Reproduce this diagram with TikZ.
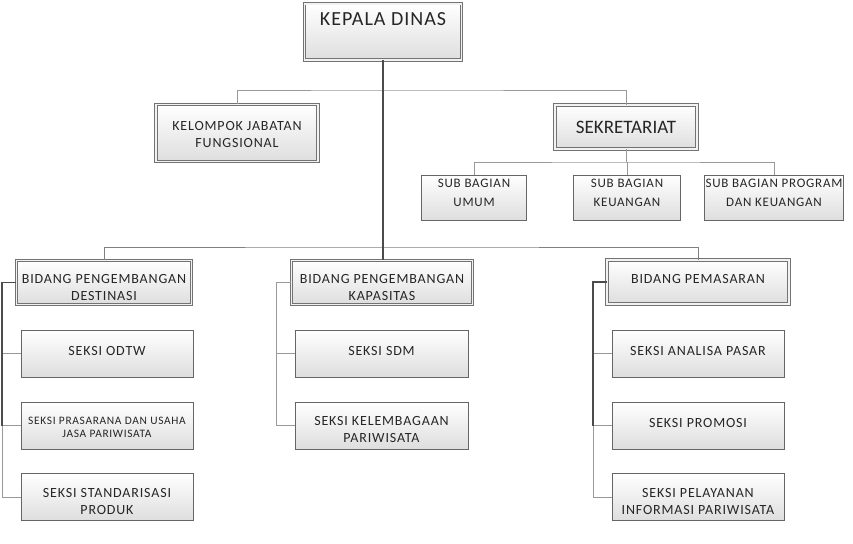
\documentclass[tikz,border=0pt]{standalone}
\usepackage{fontspec}
\setmainfont{Carlito}
\newfontfamily\wide[LetterSpace=6]{Carlito}
\newfontfamily\wider[LetterSpace=5]{Carlito}
\newcommand\dnby[1]{\rule{0pt}{#1}}
\newcommand\upby[1]{\rule[-#1]{0pt}{#1}}
\usetikzlibrary{calc}
\begin{document}
\begin{tikzpicture}[x=1pt,y=-1pt,
  base/.style={inner sep=1pt, align=center, text=black!85, top color=white, bottom color=black!13},
  dbox/.style={base, draw=black!55, double=black!5, double distance=1.3pt, line width=0.9pt},
  sbox/.style={base, draw=black!60, line width=0.9pt},
  link/.style={draw=black!40, line width=0.8pt},
  spine/.style={draw=black!70, line width=1.2pt},
  fA/.style={font=\wider\fontsize{20}{23}\selectfont},
  fB/.style={font=\fontsize{19}{22}\selectfont},
  fC/.style={font=\wide\fontsize{14}{17}\selectfont},
  fS/.style={font=\wide\fontsize{13}{19}\selectfont},
  fD/.style={font=\wide\fontsize{11.4}{13.5}\selectfont}]
\useasboundingbox[fill=white] (0,0) rectangle (853,543);

% boxes
\node[dbox, fA, anchor=north, inner sep=0pt, minimum width=157, text height=22, text depth=34] (kd) at (383,3.5) {KEPALA DINAS};
\node[dbox, fC, minimum width=162, minimum height=57] (kjf) at (237,133) {\dnby{12pt}KELOMPOK JABATAN\\FUNGSIONAL};
\node[dbox, fB, minimum width=142, minimum height=44] (sek) at (626,127) {SEKRETARIAT};

\node[sbox, fS, minimum width=105, minimum height=45] (sbu) at (474,197.5) {SUB BAGIAN\\UMUM\upby{9pt}};
\node[sbox, fS, minimum width=107, minimum height=45] (sbk) at (627,197.5) {SUB BAGIAN\\KEUANGAN\upby{9pt}};
\node[sbox, fS, minimum width=138, minimum height=45] (sbp) at (774,197.5) {SUB BAGIAN PROGRAM\\DAN KEUANGAN\upby{9pt}};

\node[dbox, fC, minimum width=175, minimum height=44] (bd) at (104,282.5) {\dnby{19pt}BIDANG PENGEMBANGAN\\DESTINASI};
\node[dbox, fC, minimum width=181, minimum height=44] (bk) at (382,282.5) {\dnby{19pt}BIDANG PENGEMBANGAN\\KAPASITAS};
\node[dbox, fC, minimum width=182, minimum height=44] (bp) at (698,282) {BIDANG PEMASARAN\upby{6pt}};

\node[sbox, fC, minimum width=172, minimum height=47] (s1) at (107,353.5) {SEKSI ODTW\upby{5pt}};
\node[sbox, fD, minimum width=172, minimum height=47] (s2) at (107,425.5) {\dnby{11pt}SEKSI PRASARANA DAN USAHA\\JASA PARIWISATA};
\node[sbox, fC, minimum width=172, minimum height=47] (s3) at (107,497) {\dnby{19pt}SEKSI STANDARISASI\\PRODUK};

\node[sbox, fC, minimum width=173, minimum height=47] (m1) at (381.5,353.5) {SEKSI SDM\upby{5pt}};
\node[sbox, fC, minimum width=173, minimum height=47] (m2) at (381.5,425.5) {\dnby{18pt}SEKSI KELEMBAGAAN\\PARIWISATA};

\node[sbox, fC, minimum width=172, minimum height=47] (r1) at (698,353.5) {SEKSI ANALISA PASAR\upby{5pt}};
\node[sbox, fC, minimum width=172, minimum height=47] (r2) at (698,425.5) {SEKSI PROMOSI\upby{6pt}};
\node[sbox, fC, minimum width=172, minimum height=47] (r3) at (698,497) {\dnby{19pt}SEKSI PELAYANAN\\INFORMASI PARIWISATA};

% connector coordinates
\coordinate (h1) at (383,90);
\coordinate (h2) at (627,162);
\coordinate (h3) at (383,247);
\coordinate (ls) at (2,497);
\coordinate (ms) at (276,425.5);
\coordinate (rs) at (593,497);

% connectors
\draw[link] (kjf.north) |- (h1) -| (sek.north);
\draw[link] (sek.south) -- (sek.south |- h2);
\draw[link] (sbu.north) |- (h2) -| (sbp.north);
\draw[link] (sbk.north) -- (sbk.north |- h2);
\draw[link, draw=black!50] (bd.north) |- (h3) -| (bp.north);
\draw[spine] (kd.south) -- (kd.south |- bk.north);

\draw[link] (s1.west) -- (s1.west -| ls);
\draw[link] (s2.west) -- (s2.west -| ls);
\draw[link] (ls) -- (s3.west);
\draw[spine] (bd.west) -| (s2.west -| ls);
\draw[link] (s2.west -| ls) -- (ls);

\draw[link] (m1.west) -- (m1.west -| ms);
\draw[link] (ms) -- (m2.west);
\draw[link] (bk.west) -| (ms);

\draw[link] (r1.west) -- (r1.west -| rs);
\draw[link] (r2.west) -- (r2.west -| rs);
\draw[link] (rs) -- (r3.west);
\draw[spine] (bp.west) -| (r2.west -| rs);
\draw[link] (r2.west -| rs) -- (rs);
\end{tikzpicture}
\end{document}
